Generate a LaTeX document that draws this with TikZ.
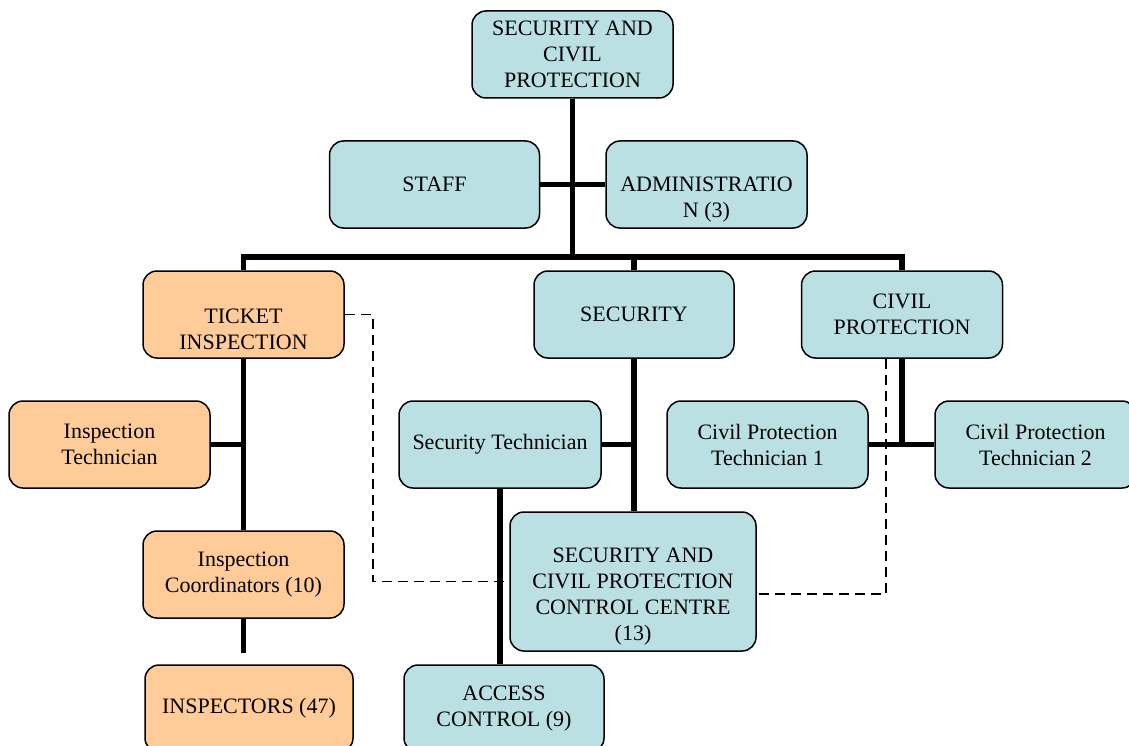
\documentclass[tikz,border=0pt]{standalone}
\usepackage{fontspec}
\setmainfont{Liberation Serif}
\usetikzlibrary{calc}

\definecolor{unitblue}{RGB}{187,224,227}
\definecolor{unitorange}{RGB}{255,204,153}

\begin{document}
\begin{tikzpicture}[
	x=1pt, y=-1pt,
	unit/.style={draw, line width=1.5pt, rounded corners=14pt, fill=unitblue,
		minimum width=201pt, minimum height=87pt, inner sep=0pt, align=center,
		font=\fontsize{22}{26}\selectfont},
	inspect/.style={unit, fill=unitorange},
	trunk/.style={line width=5.5pt},
	liaison/.style={line width=1.5pt, dash pattern=on 10pt off 6pt}]

	\useasboundingbox (0,0) rectangle (1129,746);
	\fill [white] (0,0) rectangle (1129,746);
	\clip (0,0) rectangle (1129,746);

	% head and staff units
	\node [unit] (Top) at (572.5,54.5) {SECURITY AND\\CIVIL\\PROTECTION};
	\node [unit, minimum width=210pt] (Staff) at (434.5,184.5) {STAFF};
	\node [unit] (Admin) at (706.5,184.5) {\strut\\ADMINISTRATIO\\N (3)};

	\coordinate (Bus) at (572.5,257);

	% departments
	\node [inspect] (Ticket) at (243.5,314.5) {\strut\\TICKET\\INSPECTION};
	\node [unit, minimum width=200pt] (Security) at (634,314.5) {SECURITY};
	\node [unit] (CivPro) at (902,314.5) {CIVIL\\PROTECTION};

	\node [inspect] (InspTech) at (109.5,444.5) {Inspection\\Technician};
	\node [inspect] (Coord) at (243.5,574.5) {Inspection\\Coordinators (10)};
	\node [inspect, minimum width=208pt] (Inspectors) at (249,708.5) {INSPECTORS (47)};

	\node [unit, minimum width=202pt] (SecTech) at (500,444.5) {Security Technician};
	\node [unit, minimum width=246pt, minimum height=139pt] (Centre) at (633,581.5)
		{\strut\\SECURITY AND\\CIVIL PROTECTION\\CONTROL CENTRE\\(13)};
	\node [unit, minimum width=200pt] (Access) at (504,708.5) {ACCESS\\CONTROL (9)};

	\node [unit] (CPTech1) at (767.5,444.5) {Civil Protection\\Technician 1};
	\node [unit] (CPTech2) at (1035.5,444.5) {Civil Protection\\Technician 2};

	% line of command
	\draw [trunk] (Top.south) -- (Bus);
	\draw [trunk] (Staff.east) -- (Admin.west);
	\draw [trunk] (Ticket.north) -- (Ticket.north |- Bus) -- (CivPro.north |- Bus) -- (CivPro.north);
	\draw [trunk] (Security.north) -- (Security.north |- Bus);

	\draw [trunk] (Ticket.south) -- (Coord.north);
	\draw [trunk] (InspTech.east) -- (InspTech.east -| Ticket.south);
	\draw [trunk, shorten >=11pt] (Coord.south) -- (Coord.south |- Inspectors.north);

	\draw [trunk] (Security.south) -- (Security.south |- Centre.north);
	\draw [trunk] (SecTech.east) -- (SecTech.east -| Security.south);
	\draw [trunk] (SecTech.south) -- (SecTech.south |- Access.north);

	\draw [trunk] (CivPro.south) -- (CivPro.south |- CPTech1.east);
	\draw [trunk] (CPTech1.east) -- (CPTech2.west);

	% functional links to the control centre
	\draw [liaison] (Ticket.east) -- ++(28,0) |- (Centre.west);
	\draw [liaison] ($(CivPro.south)+(-16,0)$) |- ($(Centre.east)+(0,12.5)$);

\end{tikzpicture}
\end{document}
